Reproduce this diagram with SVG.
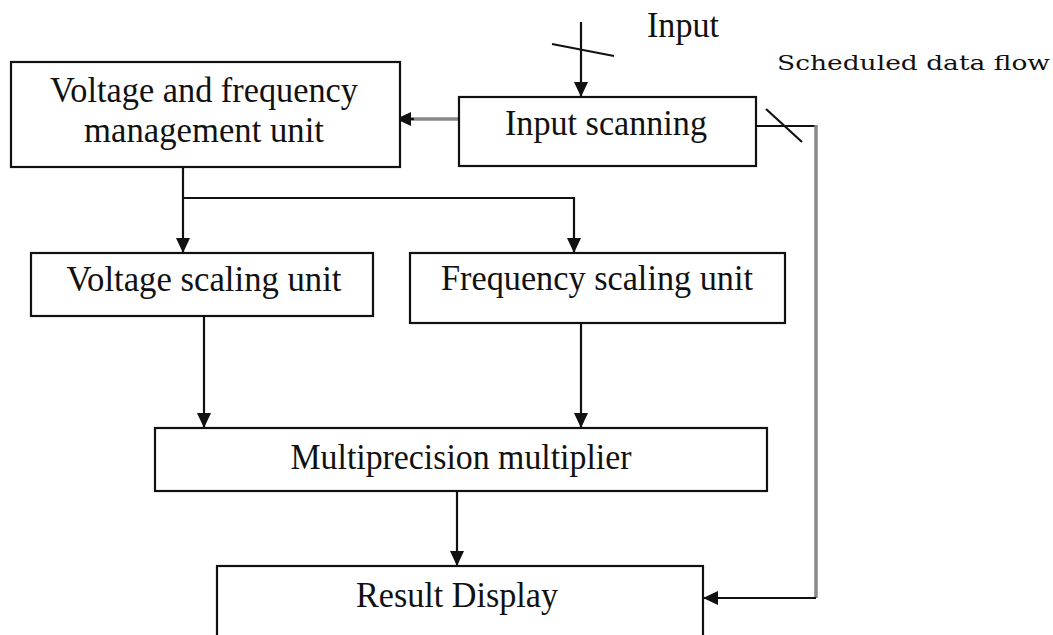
<svg xmlns="http://www.w3.org/2000/svg" width="1053" height="635" viewBox="0 0 1053 635">
<style>
.box{fill:#fff;stroke:#111;stroke-width:2.2}
.t{font-family:"Liberation Serif","Times New Roman",serif;font-size:35px;fill:#111;text-anchor:middle}
.c{fill:none;stroke:#111;stroke-width:2.2}
.g{fill:none;stroke:#888;stroke-width:3.5}
.s{font-family:"DejaVu Serif",serif;font-size:21px;fill:#111}
</style>
<defs>
<marker id="ah" markerUnits="userSpaceOnUse" markerWidth="15" markerHeight="14" refX="15" refY="7" orient="auto">
<path d="M0,0 L15,7 L0,14 z" fill="#111"/>
</marker>
</defs>
<rect width="1053" height="635" fill="#fff"/>
<g id="connectors">
<line class="c" x1="581" y1="22" x2="581" y2="97" marker-end="url(#ah)"/>
<line class="c" x1="552" y1="44" x2="614" y2="56"/>
<line class="g" x1="459" y1="119" x2="398" y2="119"/>
<line class="c" x1="414" y1="119" x2="396" y2="119" marker-end="url(#ah)"/>
<path class="c" d="M183,167 V253" marker-end="url(#ah)"/>
<path class="c" d="M183,198 H574 V253" marker-end="url(#ah)"/>
<path class="c" d="M204,316 V428" marker-end="url(#ah)"/>
<path class="c" d="M581,323 V428" marker-end="url(#ah)"/>
<path class="c" d="M457,491 V566" marker-end="url(#ah)"/>
<path class="c" d="M756,126 H816"/>
<path class="g" d="M816,125 V598"/>
<path class="c" d="M816,598 H703" marker-end="url(#ah)"/>
<line class="c" x1="766" y1="109" x2="802" y2="142"/>
</g>
<g id="input-label"><text class="t" x="683" y="37" textLength="72" lengthAdjust="spacingAndGlyphs">Input</text></g>
<g id="flow-label"><text class="s" x="777" y="70" textLength="273" lengthAdjust="spacingAndGlyphs">Scheduled data  flow</text></g>
<g id="vfm">
<rect class="box" x="11" y="62" width="389" height="105"/>
<text class="t" x="204" y="102" textLength="308" lengthAdjust="spacingAndGlyphs">Voltage and frequency</text>
<text class="t" x="204" y="142" textLength="240" lengthAdjust="spacingAndGlyphs">management unit</text>
</g>
<g id="input-scanning">
<rect class="box" x="459" y="97" width="297" height="69"/>
<text class="t" x="606" y="135" textLength="202" lengthAdjust="spacingAndGlyphs">Input scanning</text>
</g>
<g id="voltage-scaling">
<rect class="box" x="31" y="253" width="342" height="63"/>
<text class="t" x="204" y="291" textLength="275" lengthAdjust="spacingAndGlyphs">Voltage scaling unit</text>
</g>
<g id="frequency-scaling">
<rect class="box" x="410" y="253" width="375" height="70"/>
<text class="t" x="597" y="290" textLength="312" lengthAdjust="spacingAndGlyphs">Frequency scaling unit</text>
</g>
<g id="multiplier">
<rect class="box" x="155" y="428" width="612" height="63"/>
<text class="t" x="461" y="469" textLength="341" lengthAdjust="spacingAndGlyphs">Multiprecision multiplier</text>
</g>
<g id="result">
<rect class="box" x="217" y="566" width="486" height="90"/>
<text class="t" x="457" y="607" textLength="202" lengthAdjust="spacingAndGlyphs">Result Display</text>
</g>
</svg>
